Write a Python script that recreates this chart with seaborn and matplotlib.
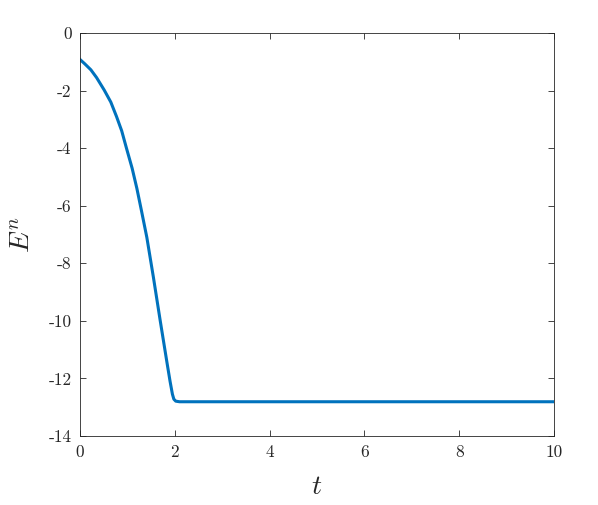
import pandas as pd
import matplotlib
matplotlib.use('Agg')
import matplotlib.pyplot as plt
import seaborn as sns

# Energy curve
t_vals = [0.0, 0.1, 0.23, 0.35, 0.51, 0.65, 0.77, 0.88, 0.98, 1.1, 1.2, 1.3, 1.41,
          1.55, 1.69, 1.83, 1.9, 1.95, 1.98, 2.02, 2.1, 3.0, 4.0, 5.0, 6.0, 7.0, 8.0, 9.0, 10.0]
e_vals = [-0.92, -1.07, -1.28, -1.55, -1.98, -2.4, -2.9, -3.4, -4.0, -4.7, -5.4, -6.2, -7.1,
          -8.5, -9.97, -11.4, -12.1, -12.55, -12.72, -12.79, -12.81, -12.81, -12.81, -12.81,
          -12.81, -12.81, -12.81, -12.81, -12.81]
x_ticks = [0, 2, 4, 6, 8, 10]
y_ticks = [0, -2, -4, -6, -8, -10, -12, -14]

df = pd.DataFrame({'t': t_vals, 'E': e_vals})

plt.rcParams['font.family'] = 'cmr10'
plt.rcParams['mathtext.fontset'] = 'cm'
plt.rcParams['axes.unicode_minus'] = False
plt.rcParams['axes.formatter.use_mathtext'] = True

fig = plt.figure(figsize=(5.98, 5.05), dpi=100)
ax = fig.add_axes([80 / 598, 69 / 505, 474 / 598, 403 / 505])

sns.lineplot(data=df, x='t', y='E', color='#0072BD', linewidth=2.2, ax=ax)
ax.lines[0].set_solid_joinstyle('round')

grey = '#262626'
ax.set_xlim(0, 10)
ax.set_ylim(-14, 0)
ax.set_xticks(x_ticks)
ax.set_yticks(y_ticks)
ax.set_xticklabels([str(v) for v in x_ticks])
ax.set_yticklabels([str(v) for v in y_ticks])
ax.tick_params(direction='in', length=4, width=0.6, top=True, right=True,
               labelsize=12.5, colors=grey, pad=6)
for s in ax.spines.values():
    s.set_color(grey)
    s.set_linewidth(0.6)

ax.set_xlabel('$t$', fontsize=20, color=grey, labelpad=10)
ax.set_ylabel('$E^n$', fontsize=20, color=grey, labelpad=9)

fig.savefig('out.png', dpi=100)
